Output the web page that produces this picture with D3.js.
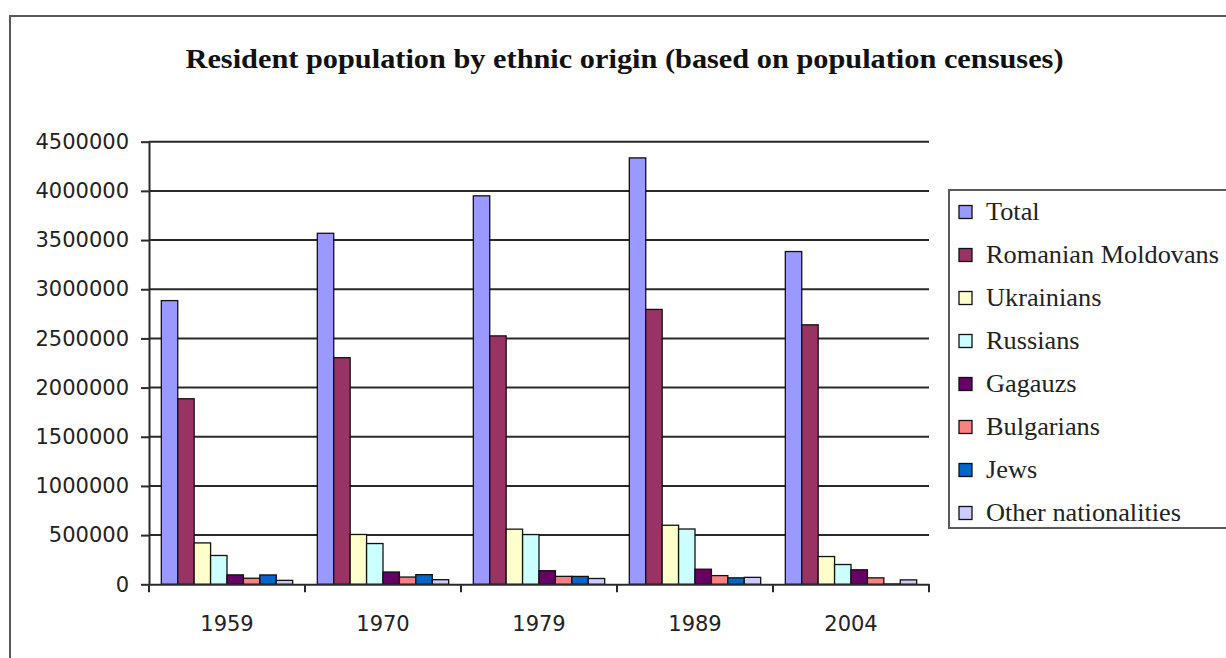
<!DOCTYPE html>
<html>
<head>
<meta charset="utf-8">
<script src="https://cdn.jsdelivr.net/npm/d3@7"></script>
<style>
  html, body { margin: 0; padding: 0; background: #fff; }
  svg { display: block; }
</style>
</head>
<body>
<svg id="chart" width="1226" height="658"></svg>
<script>
// ---- Data ----
const categories = ["1959", "1970", "1979", "1989", "2004"];
const seriesNames = ["Total", "Romanian Moldovans", "Ukrainians", "Russians", "Gagauzs", "Bulgarians", "Jews", "Other nationalities"];
const total       = [2884477, 3568873, 3949756, 4335360, 3383332];
const romanianMoldovans = [1886566, 2303916, 2525687, 2794749, 2638125];
const ukrainians  = [420820, 506560, 560679, 600366, 282406];
const russians    = [292930, 414444, 505730, 562069, 201218];
const gagauzs     = [95856, 124902, 138000, 153458, 147500];
const bulgarians  = [61652, 73776, 80665, 88419, 65662];
const jews        = [95107, 98072, 80127, 65672, 3608];
const others      = [40000, 47000, 59000, 70627, 45000];
const seriesValues = [total, romanianMoldovans, ukrainians, russians, gagauzs, bulgarians, jews, others];
const seriesColors = ["#9999FF", "#993366", "#FFFFCC", "#CCFFFF", "#660066", "#FF8080", "#0066CC", "#CCCCFF"];
const yTicks = [0, 500000, 1000000, 1500000, 2000000, 2500000, 3000000, 3500000, 4000000, 4500000];
const titleText = "Resident population by ethnic origin (based on population censuses)";

// ---- Layout ----
const svg = d3.select("#chart");
const plotLeft = 149, plotRight = 929, plotTop = 141.7, plotBottom = 584.3;

svg.append("rect").attr("width", 1226).attr("height", 658).attr("fill", "#fff");
svg.append("rect").attr("x", 10).attr("y", 16).attr("width", 1240).attr("height", 680)
  .attr("fill", "#fff").attr("stroke", "#5a5a5a").attr("stroke-width", 2);

const x0 = d3.scaleBand().domain(categories).range([plotLeft, plotRight]).padding(0);
const x1 = d3.scaleBand().domain(seriesNames).range([0, x0.bandwidth()]).paddingInner(0).paddingOuter(0.75);
const y = d3.scaleLinear().domain([0, 4500000]).range([plotBottom, plotTop]);

// Gridlines
svg.append("g").selectAll("line").data(yTicks.filter(d => d > 0)).join("line")
  .attr("x1", plotLeft).attr("x2", plotRight)
  .attr("y1", d => y(d)).attr("y2", d => y(d))
  .attr("stroke", "#2a2a2a").attr("stroke-width", 2);

// Bars
const groups = svg.append("g").selectAll("g").data(categories).join("g")
  .attr("transform", d => `translate(${x0(d)},0)`);
groups.selectAll("rect")
  .data((c, ci) => seriesNames.map((s, si) => ({ s, si, v: seriesValues[si][ci] })))
  .join("rect")
  .attr("x", d => x1(d.s))
  .attr("width", x1.bandwidth())
  .attr("y", d => y(d.v))
  .attr("height", d => y(0) - y(d.v))
  .attr("fill", d => seriesColors[d.si])
  .attr("stroke", "#111").attr("stroke-width", 1.3);

// Y axis
const yAxis = svg.append("g").attr("transform", `translate(${plotLeft},0)`)
  .call(d3.axisLeft(y).tickValues(yTicks).tickSize(8).tickSizeOuter(0).tickPadding(12).tickFormat(d => String(d)));
yAxis.select(".domain").attr("stroke", "#2a2a2a").attr("stroke-width", 2);
yAxis.selectAll(".tick line").attr("stroke", "#2a2a2a").attr("stroke-width", 2);
yAxis.selectAll(".tick text").attr("font-family", "'DejaVu Sans', sans-serif").attr("font-size", 21).attr("fill", "#222");

// X axis
const xAxis = svg.append("g").attr("transform", `translate(0,${plotBottom})`)
  .call(d3.axisBottom(x0).tickSize(0).tickSizeOuter(0).tickPadding(32));
xAxis.select(".domain").attr("stroke", "#2a2a2a").attr("stroke-width", 2);
xAxis.selectAll(".tick text").attr("font-family", "'DejaVu Sans', sans-serif").attr("font-size", 21).attr("fill", "#222");
const boundaries = categories.map(c => x0(c)).concat([x0(categories[categories.length - 1]) + x0.bandwidth()]);
xAxis.append("g").selectAll("line").data(boundaries).join("line")
  .attr("x1", d => d).attr("x2", d => d).attr("y1", 0).attr("y2", 8)
  .attr("stroke", "#2a2a2a").attr("stroke-width", 2);

// Title
svg.append("text").attr("x", 624.5).attr("y", 68).attr("text-anchor", "middle")
  .attr("font-family", "'Liberation Serif', 'Times New Roman', serif").attr("font-weight", "bold")
  .attr("font-size", 27).attr("fill", "#111")
  .attr("textLength", 878).attr("lengthAdjust", "spacingAndGlyphs")
  .text(titleText);

// Legend
const legend = svg.append("g");
legend.append("rect").attr("x", 949).attr("y", 190).attr("width", 300).attr("height", 338)
  .attr("fill", "#fff").attr("stroke", "#5a5a5a").attr("stroke-width", 2);
const legendY = d3.scalePoint().domain(seriesNames).range([212, 513]);
const items = legend.selectAll("g.item").data(seriesNames).join("g").attr("class", "item")
  .attr("transform", d => `translate(0,${legendY(d)})`);
items.append("rect").attr("x", 959).attr("y", -6.5).attr("width", 13).attr("height", 13)
  .attr("fill", (d, i) => seriesColors[i]).attr("stroke", "#111").attr("stroke-width", 1.3);
const labels = items.append("text").attr("x", 986).attr("y", 8)
  .attr("font-family", "'Liberation Serif', 'Times New Roman', serif").attr("font-size", 25).attr("fill", "#222")
  .text(d => d);
const refLen = labels.filter(d => d === "Romanian Moldovans").node().getComputedTextLength();
const k = 233 / refLen;
labels.each(function() {
  const len = this.getComputedTextLength();
  d3.select(this).attr("textLength", len * k).attr("lengthAdjust", "spacingAndGlyphs");
});
</script>
</body>
</html>
